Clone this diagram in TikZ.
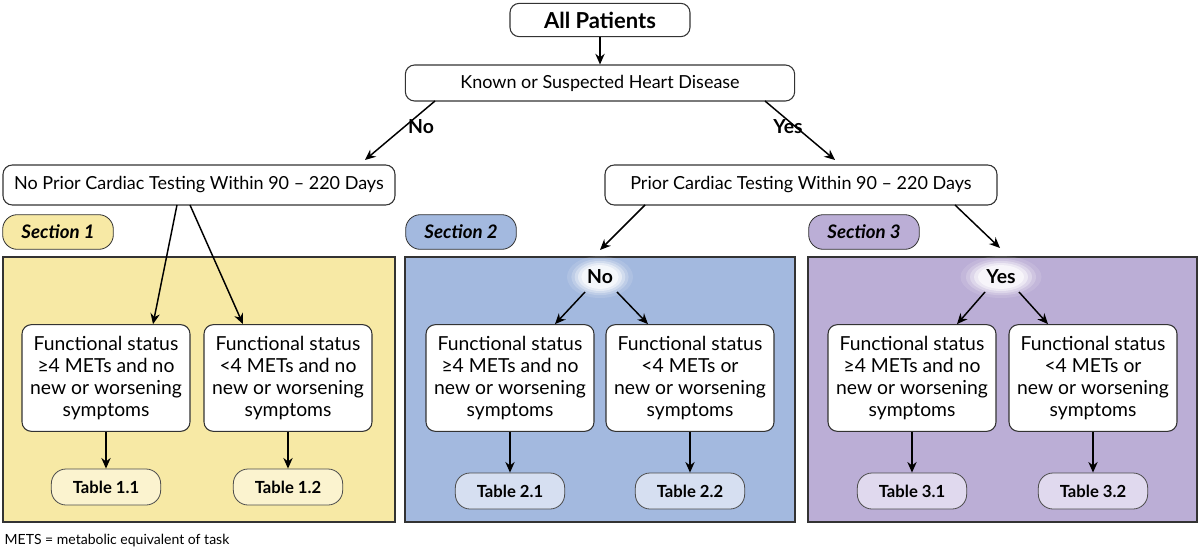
\documentclass[tikz,border=0pt]{standalone}
\usepackage{fontspec}
\setmainfont{Lato}
\usetikzlibrary{arrows.meta,shapes.geometric}
\definecolor{yel}{HTML}{F7E9A5}\definecolor{yelL}{HTML}{FBF3CF}
\definecolor{blu}{HTML}{A3B9DF}\definecolor{bluL}{HTML}{D6DFF1}
\definecolor{pur}{HTML}{BBAED6}\definecolor{purL}{HTML}{E0D9EE}
\begin{document}
\begin{tikzpicture}[x=0.75pt,y=-0.75pt,
 box/.style={draw=black!80,line width=0.8pt,fill=white,rounded corners=7pt,inner sep=0pt,align=center},
 fbox/.style={box,minimum width=126pt,minimum height=80pt,font=\fontsize{14.5}{16.5}\selectfont},
 tab/.style={draw=black!70,line width=0.6pt,rounded corners=11pt,minimum width=82pt,minimum height=27pt,font=\fontsize{12.5}{14}\selectfont\bfseries},
 sec/.style={draw=black!80,line width=0.6pt,rounded corners=11pt,minimum width=83pt,minimum height=26pt,font=\fontsize{14}{16}\selectfont\bfseries\itshape},
 panel/.style={draw=black!80,line width=0.8pt},
 arr/.style={-{Stealth[length=8pt,width=7pt]},line width=1.1pt},
 lab/.style={font=\fontsize{14.5}{16}\selectfont\bfseries}]
\useasboundingbox (0,0) rectangle (1200,553);
\fill[white] (0,0) rectangle (1200,553);
\node[box,minimum width=135pt,minimum height=25pt,font=\fontsize{16.5}{18}\selectfont\bfseries] (all) at (600,20) {All Patients};
\node[box,minimum width=292pt,minimum height=27pt,font=\fontsize{13.5}{15}\selectfont] (known) at (600,83) {Known or Suspected Heart Disease};
\node[box,minimum width=294pt,minimum height=30pt,font=\fontsize{13.5}{15}\selectfont] (nop) at (199,185) {No Prior Cardiac Testing Within 90 -- 220 Days};
\node[box,minimum width=294pt,minimum height=30pt,font=\fontsize{13.5}{15}\selectfont] (pri) at (801,185) {Prior Cardiac Testing Within 90 -- 220 Days};
\draw[arr] (all) -- (known);
\node[lab] (no0) at (421,127) {No};
\node[lab] (yes0) at (788,127) {Yes};
\coordinate (k1) at (435,101); \coordinate (k2) at (765,101);
\draw[arr] (k1) -- (365,160); \draw[arr] (k2) -- (835,160);
% sections
\node[sec,fill=yel] (s1) at (58,232) {Section 1};
\node[sec,fill=blu] (s2) at (461,232) {Section 2};
\node[sec,fill=pur] (s3) at (864,232) {Section 3};
\draw[panel,fill=yel] (3,257) rectangle (395,522);
\draw[panel,fill=blu] (405,257) rectangle (795,522);
\draw[panel,fill=pur] (808,257) rectangle (1197,522);
% function boxes
\node[fbox] (f11) at (106,378) {Functional status\\≥4 METs and no\\new or worsening\\symptoms};
\node[fbox] (f12) at (288,378) {Functional status\\<4 METs and no\\new or worsening\\symptoms};
\node[fbox] (f21) at (510,378) {Functional status\\≥4 METs and no\\new or worsening\\symptoms};
\node[fbox] (f22) at (690,378) {Functional status\\<4 METs or\\new or worsening\\symptoms};
\node[fbox] (f31) at (912,378) {Functional status\\≥4 METs and no\\new or worsening\\symptoms};
\node[fbox] (f32) at (1093,378) {Functional status\\<4 METs or\\new or worsening\\symptoms};
\node[tab,fill=yelL] (t11) at (106,487) {Table 1.1};
\node[tab,fill=yelL] (t12) at (288,487) {Table 1.2};
\node[tab,fill=bluL] (t21) at (510,491) {Table 2.1};
\node[tab,fill=bluL] (t22) at (690,491) {Table 2.2};
\node[tab,fill=purL] (t31) at (912,491) {Table 3.1};
\node[tab,fill=purL] (t32) at (1093,491) {Table 3.2};
\foreach \f/\t in {f11/t11,f12/t12,f21/t21,f22/t22,f31/t31,f32/t32} \draw[arr] (\f) -- (\t);
\coordinate (n1) at (177,205); \coordinate (n2) at (190,205);
\draw[arr] (n1) -- (f11.north -| 153,0); \draw[arr] (n2) -- (f12.north -| 243,0);
\coordinate (p1) at (645,205); \coordinate (p2) at (955,205);
\draw[arr] (p1) -- (600,250); \draw[arr] (p2) -- (1000,248);
% glow bubbles
\foreach \c/\w in {600/22,1001/27}{
 \foreach \o/\r in {0.12/1.5,0.2/1.3,0.3/1.15,0.45/1.0,0.6/0.85}
   \fill[white,opacity=\o] (\c,277) ellipse ({\w*\r} and {14*\r});
}
\node[lab] (nb) at (600,277) {No};
\node[lab] (yb) at (1001,277) {Yes};
\draw[arr] (585,292) -- (f21.north -| 555,0);
\draw[arr] (617,292) -- (f22.north -| 648,0);
\draw[arr] (985,292) -- (f31.north -| 957,0);
\draw[arr] (1019,292) -- (f32.north -| 1048,0);
\node[anchor=west,font=\fontsize{10.5}{12}\selectfont] (foot) at (0,541) {METS = metabolic equivalent of task};
\end{tikzpicture}
\end{document}
